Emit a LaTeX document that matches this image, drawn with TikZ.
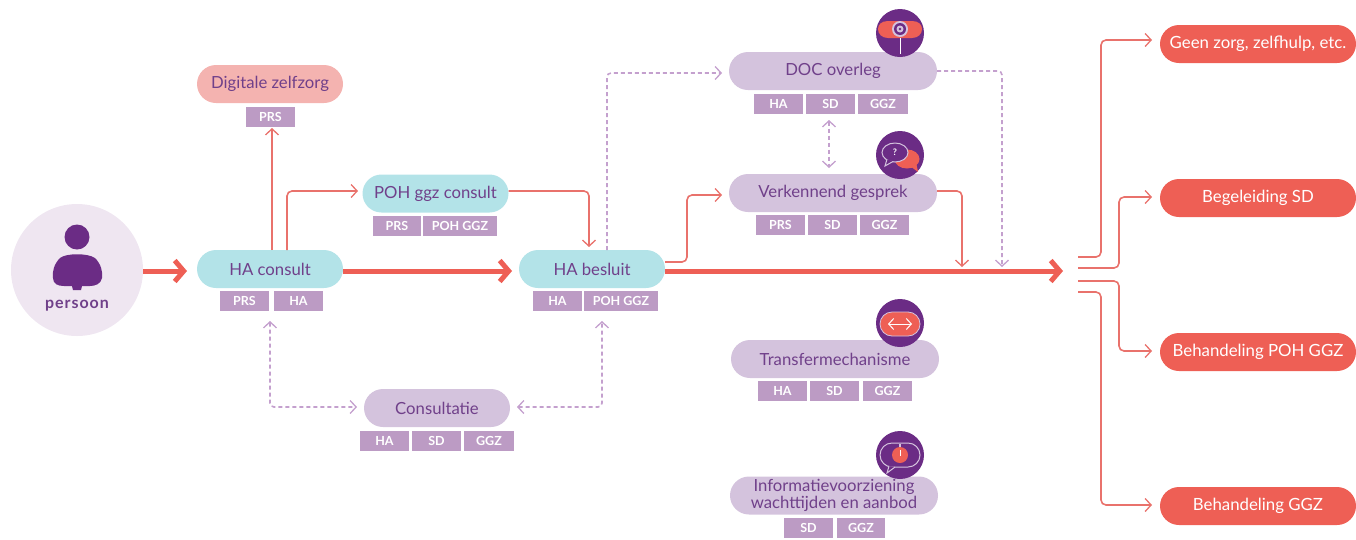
\documentclass[tikz,border=0pt]{standalone}
\usepackage{fontspec}
\setmainfont{Lato}
\newfontfamily\personfont[LetterSpace=6]{Lato}
\usetikzlibrary{arrows.meta,shapes.misc,calc}
\definecolor{redm}{HTML}{EE5F55}
\definecolor{redl}{HTML}{E9726C}
\definecolor{tealp}{HTML}{B3E3E8}
\definecolor{lilac}{HTML}{D4C3DD}
\definecolor{tagc}{HTML}{BC9BC4}
\definecolor{purp}{HTML}{6B2C85}
\definecolor{txt}{HTML}{70408A}
\definecolor{pinkp}{HTML}{F4B3B0}
\definecolor{circ}{HTML}{EFE6F1}
\definecolor{dash}{HTML}{C4A0CE}
\tikzset{
 pill/.style={rounded rectangle,draw=none,text=txt,font=\fontsize{16.7}{16.5}\selectfont,inner sep=0pt,align=center},
 teal/.style={pill,fill=tealp,minimum width=146pt,minimum height=38pt},
 pink/.style={pill,fill=pinkp,minimum width=146pt,minimum height=38pt},
 lil/.style={pill,fill=lilac,minimum width=146pt,minimum height=38pt},
 wide/.style={pill,fill=lilac,minimum width=208pt,minimum height=38pt},
 outc/.style={pill,fill=redm,text=white,minimum width=196pt,minimum height=38pt,font=\fontsize{16.8}{18}\selectfont},
 tagb/.style={rectangle,fill=tagc,text=white,font=\bfseries\fontsize{12.5}{13}\selectfont,inner sep=0pt,minimum height=20pt},
 thick/.style={draw=redm,line width=5pt,-{Straight Barb[length=9pt,width=21pt,line width=5pt]}},
 thin/.style={draw=redl,line width=1.6pt,rounded corners=5pt,-{Straight Barb[length=6pt,width=13pt,line width=1.3pt]}},
 mid/.style={thin,line width=2.4pt},
 dsh/.style={draw=dash,line width=1.6pt,dash pattern=on 4pt off 3pt,rounded corners=4pt,-{Straight Barb[length=6pt,width=13pt,line width=1.3pt]}},
 dshb/.style={dsh,{Straight Barb[length=6pt,width=13pt,line width=1.3pt]}-{Straight Barb[length=6pt,width=13pt,line width=1.3pt]}},
 iconbg/.style={circle,fill=purp,minimum size=48pt,inner sep=0pt}
}
\newcommand{\tagbox}[5]{\node[tagb,minimum width=#4pt] (#1) at (#2,#3) {#5};}
\begin{document}
\begin{tikzpicture}[x=1pt,y=-1pt]
\useasboundingbox (0,0) rectangle (1356,539);
% person
\node[circle,fill=circ,minimum size=132pt,inner sep=0pt] (persoon) at (77,270) {};
\fill[purp] (77,237) circle (12.5);
\fill[purp] (60,258) .. controls (66,253) and (88,253) .. (95,258)
  .. controls (101,264) and (103,272) .. (102,278)
  .. controls (101,284) and (95,286) .. (90,286) -- (82,286) -- (81,290) -- (73,290) -- (72,286) -- (64,286)
  .. controls (58,286) and (53,284) .. (53,278) .. controls (52,272) and (54,264) .. (60,258) -- cycle;
\node[text=txt,font=\personfont\bfseries\fontsize{16}{17}\selectfont,inner sep=0pt] (plabel) at (77,306) {persoon};
% pills
\node[pink] (dig) at (270,84) {Digitale zelfzorg};
\tagbox{t1}{270.5}{116.5}{49}{PRS}
\node[teal] (hac) at (270,269) {HA consult};
\tagbox{t2}{244.5}{301}{49}{PRS}
\tagbox{t3}{298.5}{301}{49}{HA}
\node[teal] (poh) at (435.5,193.5) {POH ggz consult};
\tagbox{t4}{397}{225.5}{48}{PRS}
\tagbox{t5}{460}{225.5}{74}{POH GGZ}
\node[teal] (hab) at (592,269) {HA besluit};
\tagbox{t6}{557.5}{301}{49}{HA}
\tagbox{t7}{621}{301}{74}{POH GGZ}
\node[lil] (con) at (437,408) {Consultatie};
\tagbox{t8}{384.5}{440.5}{49}{HA}
\tagbox{t9}{436.5}{440.5}{49}{SD}
\tagbox{t10}{489}{440.5}{50}{GGZ}
\node[wide] (doc) at (833,71) {DOC overleg};
\tagbox{t11}{778.5}{103.5}{49}{HA}
\tagbox{t12}{830.5}{103.5}{49}{SD}
\tagbox{t13}{883}{103.5}{50}{GGZ}
\node[wide] (ver) at (833,193) {Verkennend gesprek};
\tagbox{t14}{780.5}{225}{49}{PRS}
\tagbox{t15}{832.5}{225}{49}{SD}
\tagbox{t16}{884.5}{225}{49}{GGZ}
\node[wide] (tra) at (835,359) {Transfermechanisme};
\tagbox{t17}{782.5}{391}{49}{HA}
\tagbox{t18}{834.5}{391}{49}{SD}
\tagbox{t19}{887.5}{391}{49}{GGZ}
\node[wide] (inf) at (834,495.5) {Informatievoorziening\\wachttijden en aanbod};
\tagbox{t20}{808.5}{528}{49}{SD}
\tagbox{t21}{861}{528}{48}{GGZ}
% outcomes
\node[outc] (o1) at (1258,44) {Geen zorg, zelfhulp, etc.};
\node[outc] (o2) at (1258,198) {Begeleiding SD};
\node[outc] (o3) at (1258,352) {Behandeling POH GGZ};
\node[outc] (o4) at (1258,506) {Behandeling GGZ};
% free ends
\coordinate (main) at (1063,271);
\coordinate (s1) at (1078,257);
\coordinate (s2) at (1078,268);
\coordinate (s3) at (1078,281);
\coordinate (s4) at (1078,292);
% thick arrows
\draw[thick] (persoon.east |- 0,271) -- (187,271);
\draw[thick] (hac.east |- 0,271) -- (512,271);
\draw[thick] (hab.east |- 0,271) -- (main);
% solid thin
\draw[mid] (272,250) -- (272,128);
\draw[thin] (287,250) -- (287,191) -- (358,191);
\draw[thin] (poh.east) ++(0,-2.5) -- (589,191) -- (589,247);
\draw[thin] (hab.east) ++(0,-7) -- (687,262) -- (687,195) -- (722,195);
\draw[thin] (ver.east) ++(0,-2) -- (962,191) -- (962,267);
% dashed
\draw[dsh] (607,250) -- (607,73) -- (722,73);
\draw[dsh] (doc.east) -- (1002,71) -- (1002,267);
\draw[dshb] (829,120) -- (829,168);
\draw[dshb] (270,321) -- (270,407) -- (357,407);
\draw[dshb] (517,407) -- (602,407) -- (602,321);
% outcome connectors
\draw[thin] (s1) -- (1101,257) -- (1101,40) -- (1152,40);
\draw[thin] (s2) -- (1119,268) -- (1119,197) -- (1152,197);
\draw[thin] (s3) -- (1119,281) -- (1119,351) -- (1152,351);
\draw[thin] (s4) -- (1101,292) -- (1101,505) -- (1152,505);
% icon: webcam
\node[iconbg] (ic1) at (900,33) {};
\fill[redm] (888,21) -- (912,21) .. controls (919,21) and (922,25) .. (922,29) .. controls (922,34) and (918,38) .. (912,38) -- (888,38) .. controls (882,38) and (878,34) .. (878,29) .. controls (878,25) and (881,21) .. (888,21) -- cycle;
\fill[lilac] (900,29) circle (8);
\fill[purp] (900,29) circle (6);
\fill[lilac] (900,29) circle (3.5);
\fill[purp] (900,29) circle (1.3);
\draw[white,line width=1pt] (900,38) -- (900,54);
% icon: question
\node[iconbg] (ic2) at (900,155) {};
\fill[redm] (907,159) ellipse (12.5 and 9.5);
\fill[redm] (910,166) -- (918,172) -- (916,162) -- cycle;
\draw[lilac,line width=1pt,fill=purp] (895,152.5) ellipse (13 and 9.5);
\draw[lilac,line width=1pt,fill=purp] (887,159) -- (885,166) -- (893,161.5);
\node[text=white,font=\bfseries\fontsize{9}{9}\selectfont,inner sep=0pt] (q) at (895,152) {?};
% icon: transfer
\node[iconbg] (ic3) at (900,323) {};
\node[rounded rectangle,fill=redm,draw=lilac,line width=0.8pt,minimum width=40pt,minimum height=24pt,inner sep=0pt] (p3) at (900,324) {};
\draw[white,line width=1pt,{Straight Barb[length=5pt,width=11pt]}-{Straight Barb[length=5pt,width=11pt]}] (888,324) -- (912,324);
% icon: info
\node[iconbg] (ic4) at (900,455) {};
\node[rounded rectangle,fill=purp,draw=lilac,line width=1pt,minimum width=40pt,minimum height=24pt,inner sep=0pt] (p4) at (900,455) {};
\draw[lilac,line width=1pt,fill=purp] (889,466) -- (887,473) -- (895,467);
\fill[redm] (900,455) circle (8);
\draw[white,line width=0.8pt] (900,450) -- (900,456);
\draw[lilac,line width=1.4pt] (900,444) -- (900,447);
\end{tikzpicture}
\end{document}
